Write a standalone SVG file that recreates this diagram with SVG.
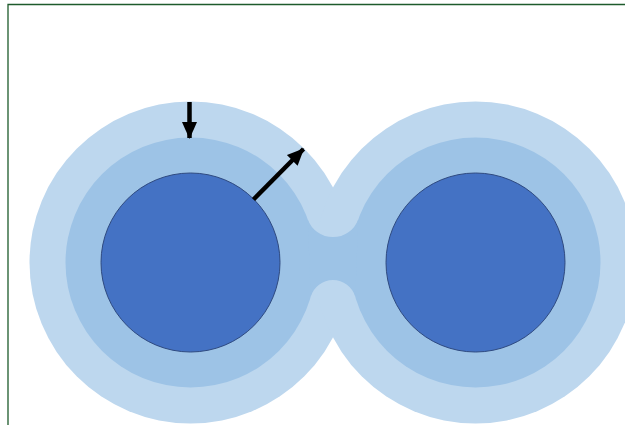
<svg xmlns="http://www.w3.org/2000/svg" width="625" height="425" viewBox="0 0 625 425">
  <style>
    .outer { fill: #BDD7EE; }
    .middle { fill: #9DC3E6; }
    .inner { fill: #4472C4; stroke: #2F4A80; stroke-width: 1; }
    .arrow { stroke: #000; stroke-width: 4.5; fill: none; marker-end: url(#head); }
    .frame { stroke: #1E5B2C; stroke-width: 1.3; fill: none; }
  </style>
  <defs>
    <marker id="head" markerUnits="userSpaceOnUse" markerWidth="18" markerHeight="18" viewBox="0 0 18 18" refX="16" refY="9" orient="auto">
      <path d="M0,1.5 L17,9 L0,16.5 Z" fill="#000"/>
    </marker>
  </defs>
  <rect width="625" height="425" fill="#fff"/>
  <path class="frame" d="M8,425 L8,4.5 L625,4.5"/>
  <g id="outer-layer">
    <circle class="outer" cx="190.5" cy="262.5" r="161"/>
    <circle class="outer" cx="475.5" cy="262.5" r="161"/>
  </g>
  <g id="middle-layer">
    <circle class="middle" cx="190.5" cy="262.5" r="125"/>
    <circle class="middle" cx="475.5" cy="262.5" r="125"/>
    <path class="middle" d="M307.8,219.4 A26.8,26.8 0 0 0 358.2,219.4 L355.3,296.8 A23.2,23.2 0 0 0 310.7,296.8 Z"/>
  </g>
  <g id="left-core">
    <circle class="inner" cx="190.5" cy="262.5" r="89.5"/>
  </g>
  <g id="right-core">
    <circle class="inner" cx="475.5" cy="262.5" r="89.5"/>
  </g>
  <g id="connectors">
    <line class="arrow" x1="189.5" y1="102" x2="189.5" y2="138"/>
    <line class="arrow" x1="253.5" y1="199.5" x2="303.5" y2="149"/>
  </g>
</svg>
